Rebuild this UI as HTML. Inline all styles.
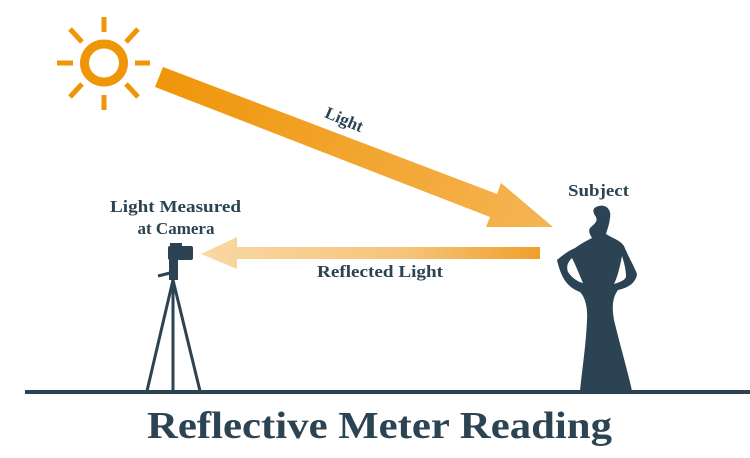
<!DOCTYPE html>
<html><head><meta charset="utf-8"><style>html,body{margin:0;padding:0;background:#fff}svg{display:block}</style></head>
<body>
<svg width="750" height="458" viewBox="0 0 750 458" xmlns="http://www.w3.org/2000/svg">
<defs>
<linearGradient id="g1" gradientUnits="userSpaceOnUse" x1="155" y1="77" x2="553" y2="227">
<stop offset="0" stop-color="#ef9508"/><stop offset="1" stop-color="#f5b454"/></linearGradient>
<linearGradient id="g2" gradientUnits="userSpaceOnUse" x1="201" y1="0" x2="540" y2="0">
<stop offset="0" stop-color="#f9d8a4"/><stop offset="0.6" stop-color="#f6c47a"/><stop offset="1" stop-color="#f0a02a"/></linearGradient>
</defs>
<!-- sun -->
<g stroke="#ef9508" fill="none">
<ellipse cx="104" cy="63" rx="19.5" ry="19" stroke-width="9"/>
<g stroke-width="5">
<line x1="104" y1="17" x2="104" y2="32"/><line x1="104" y1="95" x2="104" y2="110"/>
<line x1="57" y1="63" x2="73" y2="63"/><line x1="135" y1="63" x2="150" y2="63"/>
<line x1="70" y1="29" x2="82" y2="42"/><line x1="138" y1="29" x2="126" y2="42"/>
<line x1="70" y1="97" x2="82" y2="84"/><line x1="138" y1="97" x2="126" y2="84"/>
</g></g>
<!-- light arrow -->
<polygon points="163,67 497,194 501,183 553,227 486,227 490,217 155,87" fill="url(#g1)"/>
<!-- reflected arrow -->
<polygon points="540,247 237,247 237,237 201,254 237,269 237,259 540,259" fill="url(#g2)"/>
<g font-family="Liberation Serif, serif" font-weight="bold" fill="#2b4352">
<text x="344" y="125" font-size="17" text-anchor="middle" transform="rotate(23 344 120)">Light</text>
<text x="110" y="212" font-size="17" textLength="131" lengthAdjust="spacingAndGlyphs">Light Measured</text>
<text x="176" y="234" font-size="17" text-anchor="middle">at Camera</text>
<text x="317" y="277" font-size="17" textLength="126" lengthAdjust="spacingAndGlyphs">Reflected Light</text>
<text x="568" y="196" font-size="17" textLength="61" lengthAdjust="spacingAndGlyphs">Subject</text>
<text x="147" y="438" font-size="38" textLength="465" lengthAdjust="spacingAndGlyphs">Reflective Meter Reading</text>
</g>
<!-- ground -->
<rect x="25" y="390" width="725" height="4" fill="#2b4352"/>
<!-- camera + tripod -->
<g fill="#2b4352" stroke="#2b4352">
<rect x="168" y="246" width="25" height="14" rx="2" stroke="none"/>
<rect x="170" y="243" width="12" height="5" stroke="none"/>
<rect x="169" y="260" width="9" height="20" stroke="none"/>
<line x1="170" y1="273" x2="158" y2="276" stroke-width="3"/>
<line x1="173" y1="280" x2="147" y2="391" stroke-width="3"/>
<line x1="173" y1="280" x2="173" y2="391" stroke-width="3"/>
<line x1="173" y1="280" x2="200" y2="391" stroke-width="3"/>
</g>
<!-- subject -->
<path fill="#2b4352" d="M596,207 C604,203 612,208 610,218 C609,226 607,230 606,234 C612,238 620,240 624,246 C628,256 634,266 637,274 C636,283 628,288 618,290 C612,298 612,308 614,320 C620,345 628,372 632,391 L580,391 C582,370 586,345 587,320 C588,305 584,296 580,292 C570,288 562,282 557,260 C564,254 570,250 575,248 C582,243 588,240 592,238 C590,234 588,232 590,228 C594,224 598,222 596,217 C593,213 592,209 596,207 Z M622,256 C620,266 618,276 614,284 C620,282 626,280 626,276 C626,270 624,262 622,256 Z M572,258 C568,262 566,266 568,272 C572,278 578,282 583,283 C580,276 576,266 572,258 Z"/>
</svg>
</body></html>
